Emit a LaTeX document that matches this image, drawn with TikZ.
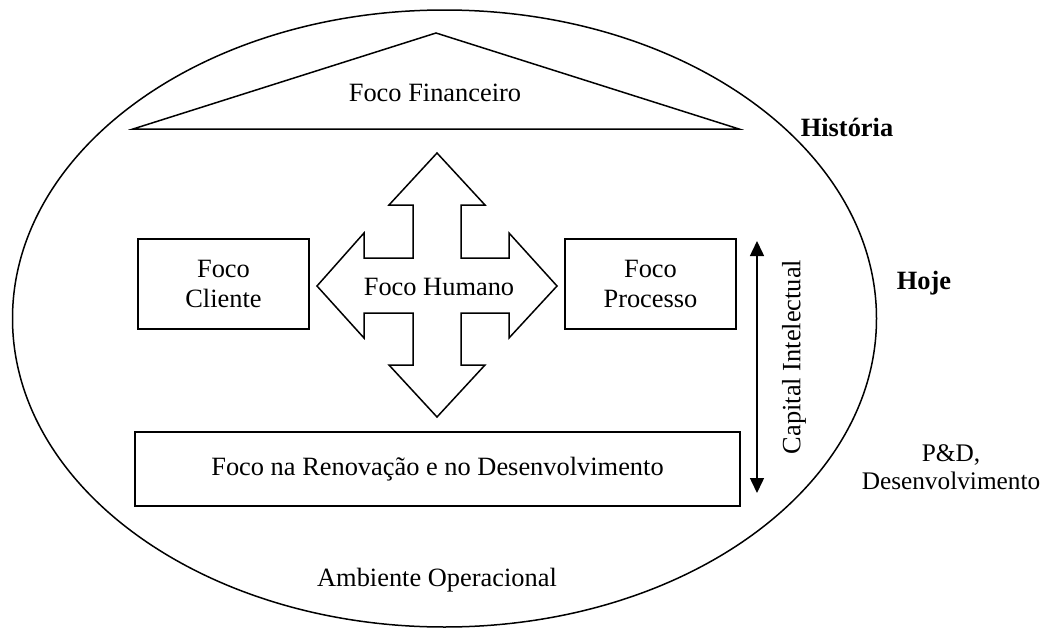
\documentclass[tikz,border=0pt]{standalone}
\usepackage{fontspec}
\setmainfont{Liberation Serif}
\usetikzlibrary{arrows.meta}
\begin{document}
\begin{tikzpicture}[x=1pt,y=-1pt,
  every node/.style={font=\fontsize{26.4}{31}\selectfont, align=center, inner sep=0pt},
  box/.style={draw, line width=1.5pt, minimum width=#1},
  bold/.style={font=\fontsize{26.4}{31}\selectfont\bfseries},
  outline/.style={draw, line width=1.5pt, line join=miter}]
\useasboundingbox (0,0) rectangle (1045,632);
% environment ellipse
\draw[line width=1.5pt] (444.5,318.5) ellipse [x radius=432, y radius=308.5];
% financial roof
\draw[outline] (133,129) -- (436,33) -- (739,129) -- cycle;
\node (fin) at (435,93) {Foco Financeiro};
% cross arrow (human focus)
\draw[outline] (437,153) -- (485,205) -- (461,205) -- (461,258) -- (509,258) -- (509,233)
  -- (557,286) -- (509,338) -- (509,313) -- (461,313) -- (461,365) -- (485,365)
  -- (437,417) -- (389,365) -- (413,365) -- (413,313) -- (364,313) -- (364,338)
  -- (317,286) -- (364,233) -- (364,258) -- (413,258) -- (413,205) -- (389,205) -- cycle;
\node (hum) at (439,287) {Foco Humano};
% side boxes
\node[box=171pt, minimum height=90pt] (cli) at (223.5,284) {Foco\\[-0.5pt]Cliente};
\node[box=171pt, minimum height=90pt] (pro) at (650.5,284) {Foco\\[-0.5pt]Processo};
% renewal box
\node[box=605pt, minimum height=74pt] (ren) at (437.5,469) {Foco na Renovação e no Desenvolvimento};
% capital intelectual arrow
\coordinate (citop) at (757,241);
\coordinate (cibot) at (757,493);
\draw[line width=1.5pt, {Triangle[length=15pt,width=14pt]}-{Triangle[length=15pt,width=14pt]}] (cibot) -- (citop);
\node[rotate=90] (cap) at (794,357) {Capital Intelectual};
% outside labels
\node[bold] (hist) at (847,127) {História};
\node[bold] (hoje) at (924,283) {Hoje};
\node[font=\fontsize{25.3}{30}\selectfont] (pd) at (951,467) {P\&D,\\[-2pt]Desenvolvimento};
\node (amb) at (437,580) {Ambiente Operacional};
\end{tikzpicture}
\end{document}
